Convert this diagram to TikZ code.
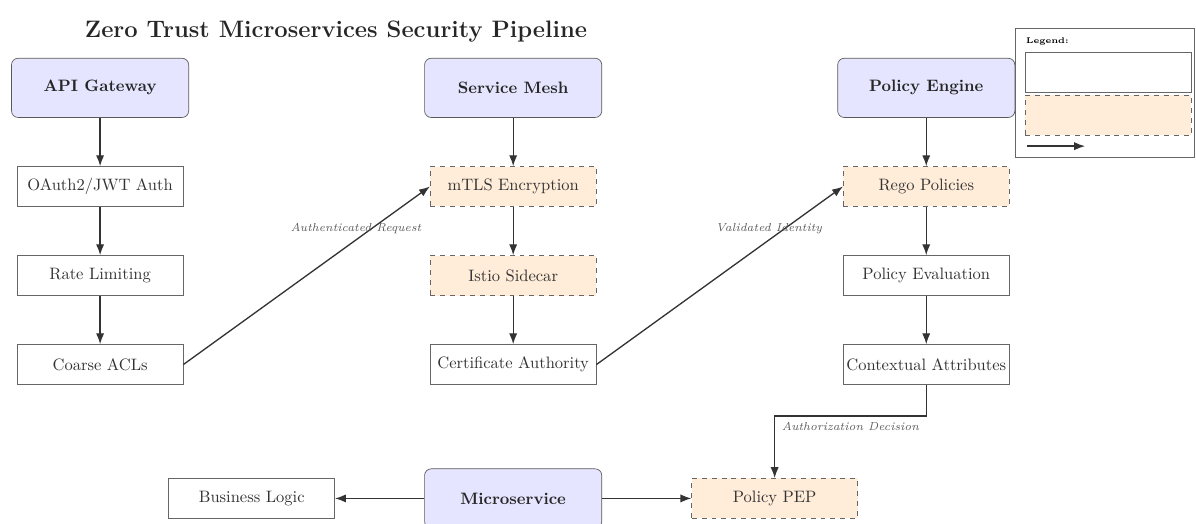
\documentclass[tikz,border=0pt]{standalone}
\usetikzlibrary{arrows.meta}
\usetikzlibrary{positioning}

\tikzset{
	header/.style={draw=black!65, fill=blue!10, rounded corners=4pt, minimum width=3.77cm, minimum height=1.26cm, font=\bfseries, text=black!85},
	plainbox/.style={draw=black!60, fill=white, minimum width=3.53cm, minimum height=0.85cm, inner sep=1pt, text=black!80},
	meshbox/.style={plainbox, dashed, fill=orange!15},
	flow/.style={-{Latex}, thick, black!80},
	edgelabel/.style={font=\scriptsize\itshape, text=black!65},
}

\begin{document}
\begin{tikzpicture}[node distance=1.03cm]

	\def\colsep{8.79}
	\def\toprow{-1.87}
	\def\lowsep{1.78}

	\useasboundingbox (0, 0) rectangle (25.45, -11.15);

	\node[font=\Large\bfseries, text=black!85] (title) at (7.15, -0.68) {Zero Trust Microservices Security Pipeline};

	\node[header] (api) at (2.13, \toprow) {API Gateway};
	\node[header] (mesh) at (2.13+\colsep, \toprow) {Service Mesh};
	\node[header] (engine) at (2.13+2*\colsep, \toprow) {Policy Engine};

	\node[plainbox, below=of api] (oauth) {OAuth2/JWT Auth};
	\node[plainbox, below=of oauth] (rate) {Rate Limiting};
	\node[plainbox, below=of rate] (acl) {Coarse ACLs};

	\node[meshbox, below=of mesh] (mtls) {mTLS Encryption};
	\node[meshbox, below=of mtls] (istio) {Istio Sidecar};
	\node[plainbox, below=of istio] (ca) {Certificate Authority};

	\node[meshbox, below=of engine] (rego) {Rego Policies};
	\node[plainbox, below=of rego] (eval) {Policy Evaluation};
	\node[plainbox, below=of eval] (ctx) {Contextual Attributes};

	\node[header, below=\lowsep of ca] (micro) {Microservice};
	\node[plainbox, left=1.9cm of micro] (logic) {Business Logic};
	\node[meshbox, right=1.9cm of micro] (pep) {Policy PEP};

	\foreach \a/\b in {api/oauth, oauth/rate, rate/acl, mesh/mtls, mtls/istio, istio/ca, engine/rego, rego/eval, eval/ctx} {
		\draw[flow] (\a) -- (\b);
	}

	\draw[flow] (acl.east) -- (mtls.west) node[pos=0.7, above, edgelabel] {Authenticated Request};
	\draw[flow] (ca.east) -- (rego.west) node[pos=0.7, above, edgelabel] {Validated Identity};
	\draw[flow] (ctx.south) -- ++(0, -0.66) -| node[pos=0.25, below, edgelabel] {Authorization Decision} (pep.north);

	\draw[flow] (micro) -- (logic);
	\draw[flow] (micro) -- (pep);

	% legend
	\draw[black!60] (21.6, -0.6) rectangle (25.42, -3.34);
	\node[anchor=west, font=\tiny\bfseries, inner sep=0pt] (legtitle) at (21.83, -0.89) {Legend:};
	\node[plainbox, anchor=north west] (legplain) at (21.81, -1.11) {};
	\node[meshbox, anchor=north west] (legmesh) at (21.81, -2.02) {};
	\coordinate (legfrom) at (21.85, -3.11);
	\coordinate (legto) at (23.09, -3.11);
	\draw[flow] (legfrom) -- (legto);

\end{tikzpicture}
\end{document}
